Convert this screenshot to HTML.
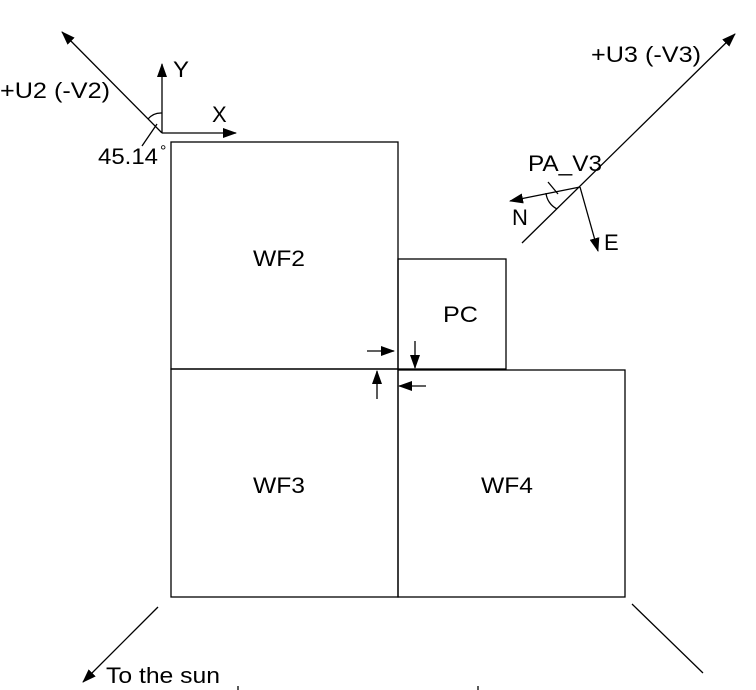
<!DOCTYPE html>
<html><head><style>body{margin:0;background:#fff}svg{display:block}text{font-family:"Liberation Sans",sans-serif;fill:#000}</style></head><body>
<svg width="756" height="690" viewBox="0 0 756 690">
<defs><marker id="a" markerWidth="14" markerHeight="10" refX="13" refY="5" orient="auto" markerUnits="userSpaceOnUse"><path d="M0,0 L14,5 L0,10 Z" fill="#000"/></marker></defs>
<g stroke="#000" stroke-width="1.3" fill="none">
<rect x="171" y="142" width="227" height="227"/>
<rect x="398" y="259" width="108" height="110"/>
<rect x="171" y="369" width="227" height="228"/>
<rect x="398" y="370" width="227" height="227"/>
<line x1="162" y1="133" x2="162" y2="64" marker-end="url(#a)"/>
<line x1="162" y1="133" x2="236" y2="133" marker-end="url(#a)"/>
<line x1="162" y1="133" x2="62" y2="32" marker-end="url(#a)"/>
<path d="M148,119 A17,17 0 0 1 162,113"/>
<line x1="157" y1="124" x2="142" y2="146"/>
<line x1="522" y1="243" x2="735" y2="34" marker-end="url(#a)"/>
<line x1="580" y1="187" x2="510" y2="201" marker-end="url(#a)"/>
<line x1="580" y1="187" x2="598" y2="251" marker-end="url(#a)"/>
<path d="M546,193 A20,20 0 0 0 557,209"/>
<line x1="548" y1="182" x2="558" y2="194"/>
<line x1="367" y1="351" x2="394" y2="351" marker-end="url(#a)"/>
<line x1="415" y1="341" x2="415" y2="368" marker-end="url(#a)"/>
<line x1="377" y1="399" x2="377" y2="371" marker-end="url(#a)"/>
<line x1="426" y1="386" x2="399" y2="386" marker-end="url(#a)"/>
<line x1="158" y1="607" x2="83" y2="682" marker-end="url(#a)"/>
<line x1="632" y1="604" x2="703" y2="673"/>
<line x1="238" y1="686" x2="238" y2="690"/>
<line x1="478" y1="686" x2="478" y2="690"/>
</g>
<g font-size="22" lengthAdjust="spacingAndGlyphs">
<text x="173" y="77" textLength="16" lengthAdjust="spacingAndGlyphs">Y</text>
<text x="212" y="122">X</text>
<text x="0" y="98" textLength="110" lengthAdjust="spacingAndGlyphs">+U2 (-V2)</text>
<text x="98" y="164" textLength="60" lengthAdjust="spacingAndGlyphs">45.14</text>
<text x="160" y="156" font-size="16">°</text>
<text x="591" y="62" textLength="110" lengthAdjust="spacingAndGlyphs">+U3 (-V3)</text>
<text x="528" y="171" textLength="74" lengthAdjust="spacingAndGlyphs">PA_V3</text>
<text x="512" y="225">N</text>
<text x="604" y="250">E</text>
<text x="253" y="266" textLength="52" lengthAdjust="spacingAndGlyphs">WF2</text>
<text x="443" y="322" textLength="35" lengthAdjust="spacingAndGlyphs">PC</text>
<text x="253" y="493" textLength="52" lengthAdjust="spacingAndGlyphs">WF3</text>
<text x="481" y="493" textLength="52" lengthAdjust="spacingAndGlyphs">WF4</text>
<text x="106" y="683" textLength="114" lengthAdjust="spacingAndGlyphs">To the sun</text>
</g>
</svg>
</body></html>
